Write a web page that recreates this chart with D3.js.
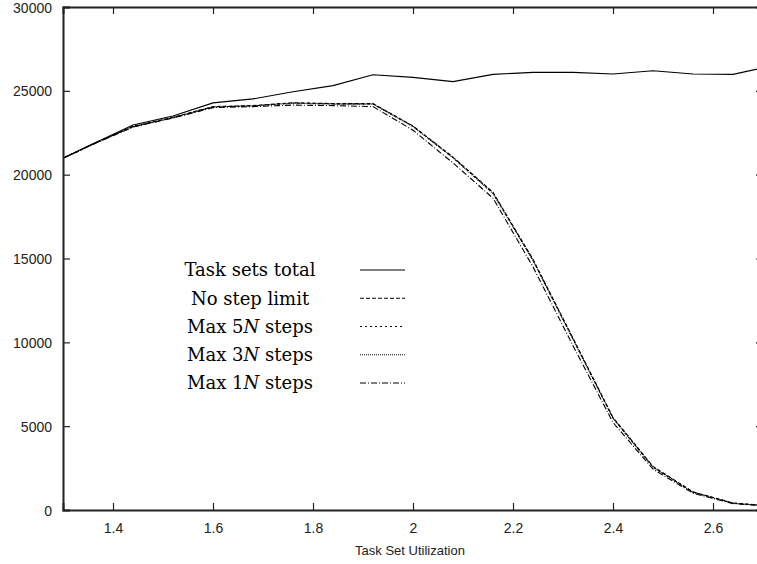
<!DOCTYPE html>
<html>
<head>
<meta charset="utf-8">
<script src="https://cdn.jsdelivr.net/npm/d3@7"></script>
<style>
  body { margin: 0; background: #fff; }
  svg { display: block; }
  .tick text { font-family: "Liberation Sans", Arial, sans-serif; font-size: 14px; fill: #222; }
</style>
</head>
<body>
<div id="chart"></div>
<script>
// utilization steps
var util = [1.28, 1.36, 1.44, 1.52, 1.60, 1.68, 1.76, 1.84, 1.92, 2.00, 2.08, 2.16, 2.24, 2.32, 2.40, 2.48, 2.56, 2.64, 2.72];

var totalSets = [20700, 21850, 22960, 23500, 24280, 24520, 24950, 25310, 25960, 25800, 25550, 25980, 26100, 26100, 26000, 26200, 26000, 25980, 26500];
var noLimit  = [20700, 21830, 22880, 23420, 24060, 24120, 24290, 24240, 24240, 22900, 21050, 18950, 14950, 10250, 5520, 2600, 1080, 420, 230];
var max5N    = [20700, 21820, 22860, 23400, 24040, 24100, 24270, 24220, 24220, 22880, 21020, 18900, 14900, 10200, 5480, 2560, 1060, 410, 220];
var max3N    = [20700, 21820, 22860, 23400, 24040, 24100, 24260, 24210, 24210, 22870, 21000, 18880, 14880, 10180, 5470, 2550, 1050, 400, 220];
var max1N    = [20700, 21800, 22840, 23380, 24000, 24060, 24150, 24120, 24060, 22650, 20700, 18600, 14500, 9800, 5220, 2440, 1000, 380, 210];

var xTicks = [1.4, 1.6, 1.8, 2.0, 2.2, 2.4, 2.6];
var yTicks = [0, 5000, 10000, 15000, 20000, 25000, 30000];

var seriesNames = ["Task sets total", "No step limit", "Max 5N steps", "Max 3N steps", "Max 1N steps"];
var seriesDash = [null, "4,2", "2,3", "1,1", "6,2,1,2"];
var seriesVals = [totalSets, noLimit, max5N, max3N, max1N];

var width = 757, height = 564;
var marginLeft = 63, marginTop = 7, plotW = 700, plotH = 503;

var svg = d3.select("#chart")
  .append("svg")
  .attr("width", width)
  .attr("height", height);

var x = d3.scaleLinear().domain([1.3, 2.7]).range([marginLeft, marginLeft + plotW]);
var y = d3.scaleLinear().domain([0, 30000]).range([marginTop + plotH, marginTop]);

svg.append("clipPath").attr("id", "plotclip")
  .append("rect")
  .attr("x", x(1.3)).attr("y", y(30000))
  .attr("width", x(2.7) - x(1.3)).attr("height", y(0) - y(30000));

var line = d3.line()
  .x(function(d) { return x(d[0]); })
  .y(function(d) { return y(d[1]); });

var lines = svg.append("g").attr("clip-path", "url(#plotclip)");
seriesVals.forEach(function(vals, i) {
  lines.append("path")
    .datum(util.map(function(u, j) { return [u, vals[j]]; }))
    .attr("fill", "none")
    .attr("stroke", "#000")
    .attr("stroke-width", 1.1)
    .attr("stroke-dasharray", seriesDash[i])
    .attr("d", line);
});

// axes (box style, ticks inside)
var gx = svg.append("g")
  .attr("transform", "translate(0," + y(0) + ")")
  .call(d3.axisBottom(x).tickValues(xTicks).tickSize(-7).tickPadding(13)
    .tickFormat(function(d) { return d === 2 ? "2" : d3.format(".1f")(d); }));

var gxTop = svg.append("g")
  .attr("transform", "translate(0," + y(30000) + ")")
  .call(d3.axisTop(x).tickValues(xTicks).tickSize(-7).tickFormat(""));

var gy = svg.append("g")
  .attr("transform", "translate(" + x(1.3) + ",0)")
  .call(d3.axisLeft(y).tickValues(yTicks).tickSize(-7).tickPadding(11)
    .tickFormat(d3.format("d")));

var gyRight = svg.append("g")
  .attr("transform", "translate(" + x(2.7) + ",0)")
  .call(d3.axisRight(y).tickValues(yTicks).tickSize(-7).tickFormat(""));

[gx, gxTop, gy, gyRight].forEach(function(g) {
  g.select(".domain").attr("stroke", "#222").attr("stroke-width", 2);
  g.selectAll(".tick line").attr("stroke", "#222").attr("stroke-width", 1.2);
});
gy.selectAll(".tick text").attr("dy", "0.36em");

svg.append("text")
  .attr("x", x(2.0) - 3)
  .attr("y", 555)
  .attr("text-anchor", "middle")
  .attr("font-family", "Liberation Sans, Arial, sans-serif")
  .attr("font-size", "13px")
  .attr("fill", "#222")
  .text("Task Set Utilization");

// legend
var legend = svg.append("g");
var legendY = d3.scaleLinear().domain([0, 4]).range([270, 383]);
seriesNames.forEach(function(name, i) {
  var t = legend.append("text")
    .attr("x", 250)
    .attr("y", legendY(i))
    .attr("dy", "0.35em")
    .attr("text-anchor", "middle")
    .attr("font-family", "DejaVu Serif, Liberation Serif, serif")
    .attr("font-size", "18px")
    .attr("fill", "#000");
  var m = name.match(/^(Max \d)N( steps)$/);
  if (m) {
    t.append("tspan").text(m[1]);
    t.append("tspan").attr("font-style", "italic").text("N");
    t.append("tspan").text(m[2]);
  } else {
    t.text(name);
  }
  legend.append("line")
    .attr("x1", 360).attr("x2", 405)
    .attr("y1", legendY(i)).attr("y2", legendY(i))
    .attr("stroke", "#000")
    .attr("stroke-width", 1.1)
    .attr("stroke-dasharray", seriesDash[i]);
});
</script>
</body>
</html>
